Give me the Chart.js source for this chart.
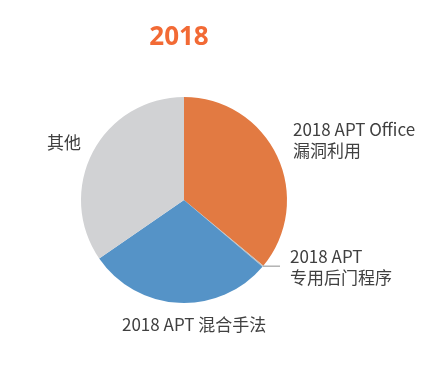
<!DOCTYPE html>
<html>
<head>
<meta charset="utf-8">
<script src="https://cdn.jsdelivr.net/npm/chart.js@4/dist/chart.umd.min.js"></script>
<style>
  body { margin: 0; background: #fff; }
  #wrap { width: 441px; height: 365px; }
</style>
</head>
<body>
<div id="wrap"><canvas id="chart" width="441" height="365"></canvas></div>
<script>
const title = '2018';
const categories = ['2018 APT Office\n漏洞利用', '2018 APT\n专用后门程序', '2018 APT 混合手法', '其他'];
const shares = [36, 0.2, 29.2, 34.6];
const colors = ['#E27A42', '#BDBDBD', '#5593C7', '#D1D2D4'];

// where each label sits (text anchor, left aligned), and whether it gets a leader line
const labelPos = [
    { x: 293, y: 130 },
    { x: 290, y: 257, leader: true },
    { x: 122, y: 325 },
    { x: 47, y: 143 }
];

const labelPlugin = {
    id: 'labels',
    afterDraw(chart) {
        const ctx = chart.ctx;
        ctx.save();
        ctx.fillStyle = '#F26A35';
        ctx.font = 'bold 26px "Open Sans", "Noto Sans", sans-serif';
        ctx.textAlign = 'center';
        ctx.textBaseline = 'middle';
        ctx.fillText(title, 179, 38);

        ctx.fillStyle = '#404040';
        ctx.font = '17px "Noto Sans CJK SC", "Noto Sans", sans-serif';
        ctx.textAlign = 'left';
        const arcs = chart.getDatasetMeta(0).data;
        categories.forEach((cat, i) => {
            const p = labelPos[i];
            const lines = cat.split('\n');
            lines.forEach((ln, k) => ctx.fillText(ln, p.x, p.y + k * 21));
            if (p.leader) {
                const a = arcs[i];
                const mid = (a.startAngle + a.endAngle) / 2;
                const ex = a.x + Math.cos(mid) * a.outerRadius;
                const ey = a.y + Math.sin(mid) * a.outerRadius;
                ctx.strokeStyle = '#8C8C8C';
                ctx.lineWidth = 1;
                ctx.beginPath();
                ctx.moveTo(ex, ey);
                ctx.lineTo(p.x - 10, ey);
                ctx.stroke();
            }
        });
        ctx.restore();
    }
};

new Chart(document.getElementById('chart').getContext('2d'), {
    type: 'pie',
    data: {
        labels: categories,
        datasets: [{ data: shares, backgroundColor: colors, borderWidth: 0 }]
    },
    options: {
        responsive: false,
        animation: false,
        layout: { padding: { left: 81, right: 154, top: 97, bottom: 62 } },
        plugins: { legend: { display: false }, tooltip: { enabled: false } }
    },
    plugins: [labelPlugin]
});
</script>
</body>
</html>
